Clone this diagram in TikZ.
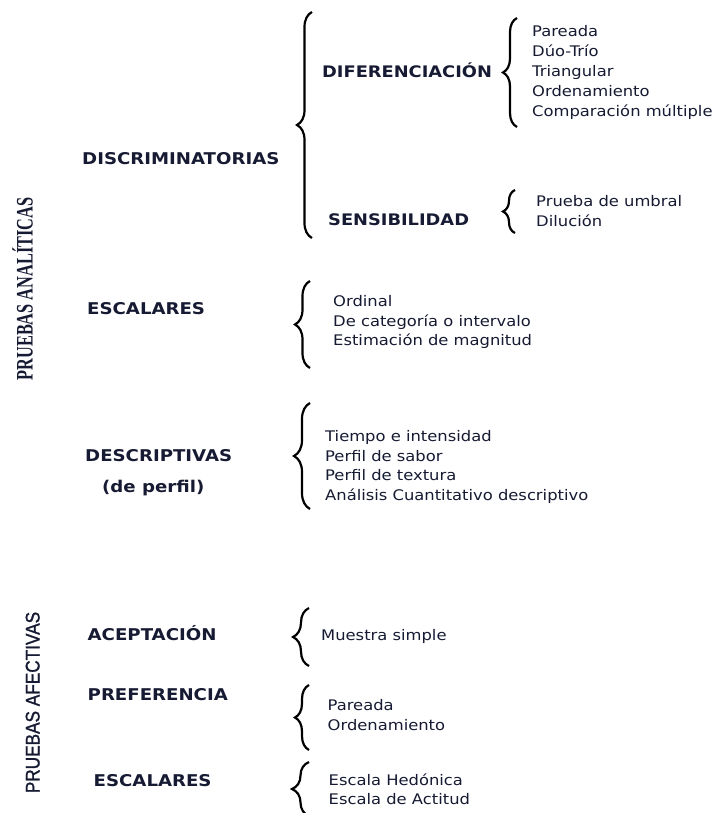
\documentclass[tikz,border=0pt]{standalone}
\usepackage{fontspec}
\setmainfont{DejaVu Sans}[FakeStretch=1.12]
\newfontfamily\afont{Liberation Sans}[FakeBold=1.3]
\newfontfamily\tfont{Liberation Serif}
\usetikzlibrary{decorations.pathreplacing}
\definecolor{ink}{RGB}{22,26,50}
\begin{document}
\begin{tikzpicture}[x=1pt,y=-1pt,
  item/.style={anchor=base west,inner sep=0pt,text=ink,font=\fontsize{14.6}{17}\selectfont},
  head/.style={anchor=base west,inner sep=0pt,text=ink,font=\fontsize{16.2}{18}\selectfont\bfseries},
  cbrace/.style={decorate,decoration={brace,amplitude=#1},line width=2.2pt},
  cbrace/.default=15pt]
\useasboundingbox (0,0) rectangle (715,813);
\clip (0,0) rectangle (715,813);
\fill[white] (0,0) rectangle (715,813);

% vertical titles
\node[anchor=base,rotate=90,inner sep=0pt,text=ink] (tan) at (32.5,289)
  {\scalebox{1}[1.45]{\tfont\bfseries\fontsize{16.3}{18}\selectfont PRUEBAS ANALÍTICAS}};
\node[anchor=base,rotate=90,inner sep=0pt,text=ink] (taf) at (39.5,702.5)
  {\scalebox{1}[1.15]{\afont\fontsize{17.2}{19}\selectfont PRUEBAS AFECTIVAS}};

% DISCRIMINATORIAS
\node[head] (disc) at (82,165) {DISCRIMINATORIAS};
\coordinate (b1t) at (312,12); \coordinate (b1b) at (312,238);
\draw[cbrace=15pt] (b1b) -- (b1t);
\node[head,font=\fontsize{15.9}{18}\selectfont\bfseries] (dif) at (322,78) {DIFERENCIACIÓN};
\node[head,font=\fontsize{15.9}{18}\selectfont\bfseries] (sen) at (328,225) {SENSIBILIDAD};
\coordinate (b2t) at (517,18); \coordinate (b2b) at (517,127);
\draw[cbrace=14pt] (b2b) -- (b2t);
\node[item] (d1) at (532,37) {Pareada};
\node[item] (d2) at (532,56.8) {Dúo-Trío};
\node[item] (d3) at (532,76.6) {Triangular};
\node[item] (d4) at (532,96.4) {Ordenamiento};
\node[item] (d5) at (532,116.2) {Comparación múltiple};
\coordinate (b3t) at (515,190); \coordinate (b3b) at (515,233);
\draw[cbrace=12pt] (b3b) -- (b3t);
\node[item] (s1) at (536,206.7) {Prueba de umbral};
\node[item] (s2) at (536,226.5) {Dilución};

% ESCALARES
\node[head] (esc) at (87,314) {ESCALARES};
\coordinate (b4t) at (310,281); \coordinate (b4b) at (310,368);
\draw[cbrace=15pt] (b4b) -- (b4t);
\node[item] (e1) at (333,306.5) {Ordinal};
\node[item] (e2) at (333,326) {De categoría o intervalo};
\node[item] (e3) at (333,345.5) {Estimación de magnitud};

% DESCRIPTIVAS
\node[head] (des) at (85,461.7) {DESCRIPTIVAS};
\node[head] (desp) at (102,492.5) {(de perfil)};
\coordinate (b5t) at (310,403); \coordinate (b5b) at (310,509);
\draw[cbrace=16pt] (b5b) -- (b5t);
\node[item] (p1) at (325,441.7) {Tiempo e intensidad};
\node[item] (p2) at (325,461.2) {Perfil de sabor};
\node[item] (p3) at (325,480.7) {Perfil de textura};
\node[item] (p4) at (325,500.2) {Análisis Cuantitativo descriptivo};

% AFECTIVAS
\node[head] (ace) at (87.5,640.7) {ACEPTACIÓN};
\coordinate (b6t) at (309,608); \coordinate (b6b) at (309,666);
\draw[cbrace=16pt] (b6b) -- (b6t);
\node[item] (a1) at (321,640.7) {Muestra simple};

\node[head] (pre) at (87.5,700.7) {PREFERENCIA};
\coordinate (b7t) at (309,685); \coordinate (b7b) at (309,750);
\draw[cbrace=14pt] (b7b) -- (b7t);
\node[item] (r1) at (327.5,710) {Pareada};
\node[item] (r2) at (327.5,730.5) {Ordenamiento};

\node[head] (esc2) at (93.5,786) {ESCALARES};
\coordinate (b8t) at (309,762); \coordinate (b8b) at (309,816);
\draw[cbrace=17pt] (b8b) -- (b8t);
\node[item] (h1) at (328.5,785) {Escala Hedónica};
\node[item] (h2) at (328.5,804) {Escala de Actitud};
\end{tikzpicture}
\end{document}
